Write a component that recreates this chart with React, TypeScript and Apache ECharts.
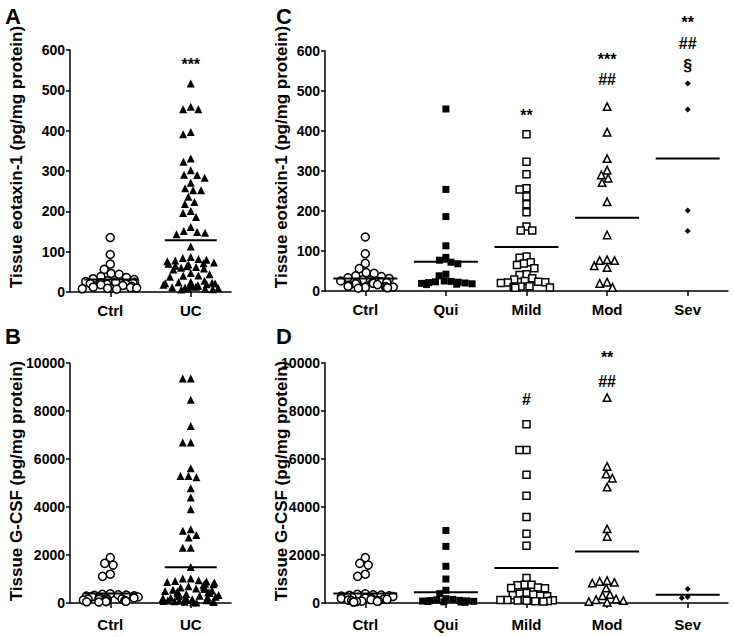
import React, { useEffect, useRef } from 'react';
import * as echarts from 'echarts';

const FONT = '"Liberation Sans", Arial, Helvetica, sans-serif';

const catsAB = ['Ctrl', 'UC'];
const catsCD = ['Ctrl', 'Qui', 'Mild', 'Mod', 'Sev'];

const eotTicks = { min: 0, max: 600, interval: 100 };
const gcsfTicks = { min: 0, max: 10000, interval: 2000 };

const eotCtrl = [135, 93, 69, 56, 46, 44, 38, 36, 33, 31, 28, 26, 25, 24, 23, 22, 21, 20, 19, 18, 16, 14, 12, 11, 10, 9, 9, 8, 7];
const eotUC = [517, 459, 453, 453, 397, 391, 331, 323, 302, 291, 290, 283, 271, 257, 252, 252, 236, 223, 218, 201, 196, 186, 161, 151, 149, 147, 143, 113, 87, 84, 82, 80, 78, 76, 73, 71, 70, 68, 65, 64, 62, 60, 58, 56, 47, 44, 41, 40, 38, 28, 25, 24, 23, 22, 21, 20, 19, 18, 17, 15, 14, 13, 12, 11, 10, 9, 8, 7, 6];
const eotQui = [455, 254, 186, 113, 84, 77, 72, 68, 42, 38, 25, 24, 23, 22, 21, 20, 19, 18, 17, 16];
const eotMild = [392, 323, 292, 257, 254, 236, 217, 197, 161, 151, 151, 86, 83, 72, 69, 65, 57, 42, 40, 32, 29, 25, 23, 22, 21, 20, 12, 11, 10, 9, 8];
const eotMod = [461, 397, 331, 302, 290, 282, 271, 223, 140, 78, 76, 76, 63, 59, 22, 19, 9];
const eotSev = [519, 454, 201, 150];

const gcsfCtrl = [1890, 1650, 1580, 1200, 1110, 380, 360, 340, 330, 320, 300, 290, 270, 250, 230, 210, 190, 170, 160, 150, 140, 120, 100, 90, 80, 70, 60, 50, 40];
const gcsfUC = [9350, 9350, 8470, 7380, 6690, 6690, 5610, 5290, 5240, 5290, 4780, 4400, 3910, 3070, 3010, 2830, 2730, 2300, 2300, 1500, 1020, 1020, 950, 920, 900, 880, 850, 800, 780, 750, 700, 680, 650, 600, 580, 550, 520, 500, 470, 450, 420, 400, 380, 350, 330, 300, 280, 260, 240, 220, 200, 180, 160, 150, 140, 120, 110, 100, 90, 80, 70, 60, 50, 40, 30, 20];
const gcsfQui = [3020, 2360, 1530, 1000, 530, 390, 180, 150, 130, 110, 100, 90, 80, 70, 60, 50, 40, 30];
const gcsfMild = [7450, 6380, 6380, 5340, 4470, 3580, 2890, 2390, 1040, 760, 760, 740, 650, 620, 610, 420, 390, 350, 320, 300, 280, 140, 130, 120, 110, 100, 90, 80, 70, 60];
const gcsfMod = [8560, 5690, 5380, 5200, 4830, 3090, 2770, 930, 900, 860, 830, 620, 350, 300, 170, 140, 100, 60, 30];
const gcsfSev = [583, 250, 208];

const eotMeansAB = [31, 128];
const eotMeansCD = [31, 73, 110, 183, 331];
const gcsfMeansAB = [400, 1490];
const gcsfMeansCD = [400, 444, 1456, 2150, 347];

const annA = { cats: [1], vals: [565], texts: ['***'] };
const annB = { cats: [] as number[], vals: [] as number[], texts: [] as string[] };
const annC = { cats: [2, 3, 3, 4, 4, 4], vals: [440, 578, 528, 672, 620, 565], texts: ['**', '***', '##', '**', '##', '§'] };
const annD = { cats: [2, 3, 3], vals: [8500, 10250, 9250], texts: ['#', '**', '##'] };

const sym: Record<string, any> = {
  Ctrl: { symbol: 'circle', size: 8, style: { color: '#fff', borderColor: '#000', borderWidth: 1.5 } },
  UC: { symbol: 'triangle', size: 8, style: { color: '#000' } },
  Qui: { symbol: 'rect', size: 7, style: { color: '#000' } },
  Mild: { symbol: 'rect', size: 7, style: { color: '#fff', borderColor: '#000', borderWidth: 1.5 } },
  Mod: { symbol: 'triangle', size: 7.5, style: { color: '#fff', borderColor: '#000', borderWidth: 1.5 } },
  Sev: { symbol: 'diamond', size: 6, style: { color: '#000' } },
};

function scatter(idx: number, cat: string, values: number[]) {
  const s = sym[cat];
  return {
    type: 'scatter',
    xAxisIndex: idx,
    yAxisIndex: idx,
    data: values.map((v) => [cat, v]),
    symbol: s.symbol,
    symbolSize: s.size,
    itemStyle: { ...s.style, opacity: 1 },
    emphasis: { disabled: true },
    silent: true,
    z: 2,
  };
}

function meanLines(idx: number, means: number[], hw: number) {
  return {
    type: 'custom',
    xAxisIndex: idx,
    yAxisIndex: idx,
    data: means.map((m, i) => [i, m]),
    silent: true,
    clip: false,
    z: 5,
    renderItem: (_p: any, api: any) => {
      const p = api.coord([api.value(0), api.value(1)]);
      return {
        type: 'line',
        shape: { x1: p[0] - hw, y1: p[1], x2: p[0] + hw, y2: p[1] },
        style: { stroke: '#000', lineWidth: 2 },
      };
    },
  };
}

function annotations(idx: number, ann: { cats: number[]; vals: number[]; texts: string[] }) {
  return {
    type: 'custom',
    xAxisIndex: idx,
    yAxisIndex: idx,
    data: ann.cats.map((c, i) => [c, ann.vals[i]]),
    silent: true,
    clip: false,
    z: 6,
    renderItem: (params: any, api: any) => {
      const p = api.coord([api.value(0), api.value(1)]);
      return {
        type: 'text',
        x: p[0],
        y: p[1],
        style: {
          text: ann.texts[params.dataIndex],
          font: `bold 16px ${FONT}`,
          fill: '#000',
          align: 'center',
          verticalAlign: 'middle',
          textAlign: 'center',
          textVerticalAlign: 'middle',
        },
      };
    },
  };
}

function xAxis(idx: number, cats: string[], margin: number) {
  return {
    type: 'category',
    gridIndex: idx,
    data: cats,
    boundaryGap: true,
    jitter: 56,
    jitterOverlap: false,
    jitterMargin: 0,
    axisLine: { show: true, lineStyle: { color: '#000', width: 1.5 } },
    axisTick: { show: true, alignWithLabel: true, length: 5, lineStyle: { color: '#000', width: 1.5 } },
    axisLabel: { color: '#000', fontWeight: 'bold', fontSize: 15, fontFamily: FONT, margin },
    splitLine: { show: false },
  };
}

function yAxis(idx: number, t: { min: number; max: number; interval: number }) {
  return {
    type: 'value',
    gridIndex: idx,
    min: t.min,
    max: t.max,
    interval: t.interval,
    axisLine: { show: true, lineStyle: { color: '#000', width: 1.5 } },
    axisTick: { show: true, length: 4, lineStyle: { color: '#000', width: 1.5 } },
    axisLabel: {
      color: '#000',
      fontWeight: 'bold',
      fontSize: 14,
      fontFamily: FONT,
      margin: 5,
      formatter: (v: number) => String(v),
    },
    splitLine: { show: false },
  };
}

function txt(x: number, y: number, text: string, size: number, rotate = false) {
  return {
    type: 'text',
    x,
    y,
    rotation: rotate ? Math.PI / 2 : 0,
    style: {
      text,
      font: `bold ${size}px ${FONT}`,
      fill: '#000',
      align: 'center',
      verticalAlign: 'middle',
      textAlign: 'center',
      textVerticalAlign: 'middle',
    },
  };
}

export default function App() {
  const ref = useRef<HTMLDivElement>(null);
  useEffect(() => {
    if (!ref.current) return;
    const chart = echarts.init(ref.current, undefined, { renderer: 'svg' });
    const option: any = {
      animation: false,
      backgroundColor: '#fff',
      textStyle: { fontFamily: FONT },
      grid: [
        { left: 70, top: 50, width: 161, height: 242 },
        { left: 70, top: 363, width: 161, height: 240 },
        { left: 325, top: 51, width: 403, height: 240 },
        { left: 325, top: 363, width: 403, height: 240 },
      ],
      xAxis: [xAxis(0, catsAB, 11), xAxis(1, catsAB, 14), xAxis(2, catsCD, 11), xAxis(3, catsCD, 14)],
      yAxis: [yAxis(0, eotTicks), yAxis(1, gcsfTicks), yAxis(2, eotTicks), yAxis(3, gcsfTicks)],
      series: [
        scatter(0, 'Ctrl', eotCtrl),
        scatter(0, 'UC', eotUC),
        scatter(1, 'Ctrl', gcsfCtrl),
        scatter(1, 'UC', gcsfUC),
        scatter(2, 'Ctrl', eotCtrl),
        scatter(2, 'Qui', eotQui),
        scatter(2, 'Mild', eotMild),
        scatter(2, 'Mod', eotMod),
        scatter(2, 'Sev', eotSev),
        scatter(3, 'Ctrl', gcsfCtrl),
        scatter(3, 'Qui', gcsfQui),
        scatter(3, 'Mild', gcsfMild),
        scatter(3, 'Mod', gcsfMod),
        scatter(3, 'Sev', gcsfSev),
        meanLines(0, eotMeansAB, 26),
        meanLines(1, gcsfMeansAB, 26),
        meanLines(2, eotMeansCD, 32),
        meanLines(3, gcsfMeansCD, 32),
        annotations(0, annA),
        annotations(1, annB),
        annotations(2, annC),
        annotations(3, annD),
      ],
      graphic: [
        txt(13, 16, 'A', 22),
        txt(13, 336, 'B', 22),
        txt(284, 16, 'C', 22),
        txt(284, 336, 'D', 22),
        txt(16, 157, 'Tissue eotaxin-1 (pg/mg protein)', 17, true),
        txt(16, 481, 'Tissue G-CSF (pg/mg protein)', 17, true),
        txt(281, 157, 'Tissue eotaxin-1 (pg/mg protein)', 17, true),
        txt(281, 481, 'Tissue G-CSF (pg/mg protein)', 17, true),
      ],
    };
    chart.setOption(option);
    return () => chart.dispose();
  }, []);
  return <div ref={ref} style={{ width: 734, height: 637, position: 'absolute', left: 0, top: 0 }} />;
}
